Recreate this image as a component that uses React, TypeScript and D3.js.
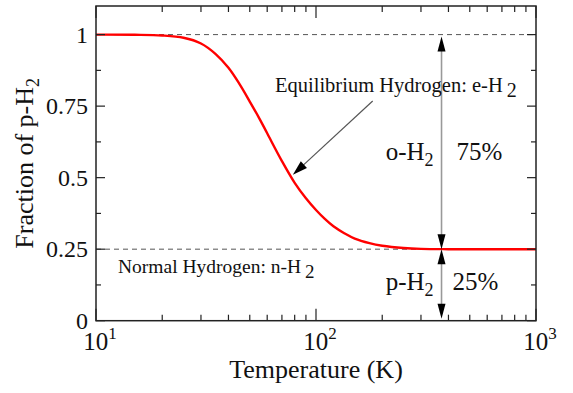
import React from 'react';
import * as d3 from 'd3';

// equilibrium para-H2 fraction
const tempK = [10, 15, 20, 25, 30, 35, 40, 45, 50, 55, 60, 70, 80, 90, 100, 110, 120, 135, 150, 175, 200, 250, 300, 400, 600, 1000];
const paraFraction = [1.0, 0.9995, 0.997, 0.989, 0.969, 0.932, 0.884, 0.826, 0.766, 0.71, 0.655, 0.558, 0.482, 0.428, 0.387, 0.355, 0.33, 0.305, 0.287, 0.271, 0.262, 0.254, 0.251, 0.25, 0.25, 0.25];

const yTicks = [0, 0.25, 0.5, 0.75, 1];
const yTickLabels = ['0', '0.25', '0.5', '0.75', '1'];
const xDecades = [10, 100, 1000];
const xDecadeExp = ['1', '2', '3'];
const refLevels = [1, 0.25];
const arrowTemp = 372;
const pointerFrom = { t: 181, f: 0.768 };
const pointerTo = { t: 78.5, f: 0.51 };

const W = 573;
const H = 393;
const FONT = '"Liberation Serif"';
const INK = '#222';

const head = (tx: number, ty: number, ang: number, len = 15, half = 4) => {
    const c = Math.cos(ang), s = Math.sin(ang);
    const bx = tx - len * c, by = ty - len * s;
    return `M${tx},${ty}L${bx - half * s},${by + half * c}L${bx + half * s},${by - half * c}Z`;
};

const App: React.FC = () => {
    const x = d3.scaleLog().domain([10, 1000]).range([96, 536]);
    const y = d3.scaleLinear().domain([0, 1.1]).range([320.7, 6]);
    const [x0, x1] = x.range();
    const [y0, y1] = y.range();

    const line = d3
        .line<number>()
        .x((_, i) => x(tempK[i]))
        .y(d => y(d))
        .curve(d3.curveCatmullRom.alpha(0.5));

    const xTicks = x.ticks();
    const yMinor = d3.range(0, 1.1, 0.125);
    const ax = x(arrowTemp);

    const px1 = x(pointerFrom.t), py1 = y(pointerFrom.f);
    const px2 = x(pointerTo.t), py2 = y(pointerTo.f);
    const pAng = Math.atan2(py2 - py1, px2 - px1);

    const txt = { fontFamily: FONT };

    return (
        <svg width={W} height={H} style={{ position: 'absolute', left: 0, top: 0, background: '#fff', fontFamily: FONT }}>
            {/* reference levels */}
            {refLevels.map(v => (
                <line key={v} x1={x0} x2={x1} y1={y(v)} y2={y(v)} stroke="#555" strokeWidth={1} strokeDasharray="5,4" />
            ))}

            {/* curve */}
            <path d={line(paraFraction) ?? ''} fill="none" stroke="#f00" strokeWidth={2.4} />

            {/* frame ticks */}
            {xTicks.map(t => {
                const major = Math.abs(Math.log10(t) - Math.round(Math.log10(t))) < 1e-9;
                const len = major ? 12 : 6;
                return (
                    <g key={t} stroke={INK} strokeWidth={1.2}>
                        <line x1={x(t)} x2={x(t)} y1={y0} y2={y0 - len} />
                        <line x1={x(t)} x2={x(t)} y1={y1} y2={y1 + len} />
                    </g>
                );
            })}
            {yMinor.map((v, i) => {
                const len = i % 2 === 0 ? 9 : 5;
                return (
                    <g key={v} stroke={INK} strokeWidth={1.2}>
                        <line x1={x0} x2={x0 + len} y1={y(v)} y2={y(v)} />
                        <line x1={x1} x2={x1 - len} y1={y(v)} y2={y(v)} />
                    </g>
                );
            })}
            <rect x={x0} y={y1} width={x1 - x0} height={y0 - y1} fill="none" stroke={INK} strokeWidth={1.5} />

            {/* tick labels */}
            {yTicks.map((v, i) => (
                <text key={v} style={txt} x={x0 - 8} y={y(v)} dy="0.33em" textAnchor="end" fontSize={24} fill="#111">
                    {yTickLabels[i]}
                </text>
            ))}
            {xDecades.map((t, i) => (
                <text key={t} style={txt} x={x(t) + 4} y={350} textAnchor="middle" fontSize={25} fill="#111">
                    10
                    <tspan fontSize={17} dy={-11}>{xDecadeExp[i]}</tspan>
                </text>
            ))}

            {/* axis titles */}
            <text style={txt} x={(x0 + x1) / 2} y={378} textAnchor="middle" fontSize={26} fill="#111">
                Temperature (K)
            </text>
            <text style={txt} transform={`translate(33,${(y0 + y1) / 2}) rotate(-90)`} textAnchor="middle" fontSize={26} fill="#111">
                Fraction of p-H<tspan fontSize={18} dy={6}>2</tspan>
            </text>

            {/* vertical arrows */}
            <g>
                <line x1={ax} x2={ax} y1={y(1) + 10} y2={y(0.25) - 10} stroke="#999" strokeWidth={1.6} />
                <line x1={ax} x2={ax} y1={y(0.25) + 10} y2={y(0) - 10} stroke="#999" strokeWidth={1.6} />
                <path d={head(ax, y(1) + 2, -Math.PI / 2)} fill="#000" />
                <path d={head(ax, y(0.25), Math.PI / 2)} fill="#000" />
                <path d={head(ax, y(0.25), -Math.PI / 2)} fill="#000" />
                <path d={head(ax, y(0) - 2, Math.PI / 2)} fill="#000" />
            </g>

            {/* pointer arrow */}
            <line x1={px1} y1={py1} x2={px2 - 12 * Math.cos(pAng)} y2={py2 - 12 * Math.sin(pAng)} stroke="#555" strokeWidth={1.2} />
            <path d={head(px2, py2, pAng, 15, 4.5)} fill="#000" />

            {/* annotations */}
            <text style={txt} x={275} y={92} fontSize={20.5} fill="#111">
                Equilibrium Hydrogen: e-H<tspan dx={4} dy={5} fontSize={20}>2</tspan>
            </text>
            <text style={txt} x={118} y={273} fontSize={19.5} fill="#111">
                Normal Hydrogen: n-H<tspan dx={4} dy={5} fontSize={19}>2</tspan>
            </text>
            <text style={txt} x={ax - 8} y={160} textAnchor="end" fontSize={25} fill="#111">
                o-H<tspan fontSize={18} dy={6}>2</tspan>
            </text>
            <text style={txt} x={ax + 15} y={160} fontSize={25} fill="#111">75%</text>
            <text style={txt} x={ax - 8} y={290} textAnchor="end" fontSize={25} fill="#111">
                p-H<tspan fontSize={18} dy={6}>2</tspan>
            </text>
            <text style={txt} x={ax + 11} y={290} fontSize={25} fill="#111">25%</text>
        </svg>
    );
};

export default App;
